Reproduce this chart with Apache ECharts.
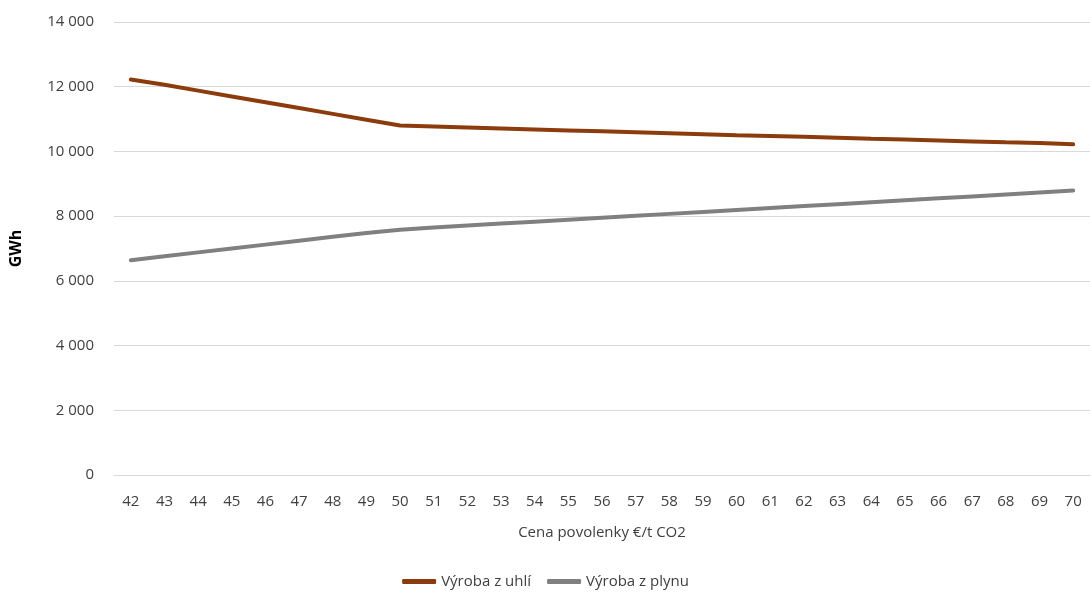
<!DOCTYPE html>
<html>
<head>
<meta charset="utf-8">
<script src="https://cdn.jsdelivr.net/npm/echarts@6/dist/echarts.min.js"></script>
<style>
  html, body { margin: 0; padding: 0; background: #fff; }
  #chart { width: 1091px; height: 592px; }
</style>
</head>
<body>
<div id="chart"></div>
<script>
// cena povolenky (€/t CO2)
var categories = ["42","43","44","45","46","47","48","49","50","51","52","53","54","55","56","57","58","59","60","61","62","63","64","65","66","67","68","69","70"];
// výroba z uhlí (GWh)
var coalValues = [12220,12060,11880,11700,11520,11340,11160,10980,10800,10770,10740,10710,10680,10650,10620,10590,10560,10530,10500,10480,10450,10420,10390,10370,10340,10310,10280,10260,10220];
// výroba z plynu (GWh)
var gasValues = [6640,6760,6880,7000,7120,7240,7360,7480,7580,7650,7710,7770,7830,7890,7950,8010,8070,8130,8190,8250,8310,8370,8430,8490,8550,8610,8670,8730,8790];
var seriesNames = ["Výroba z uhlí", "Výroba z plynu"];

var font = "'Open Sans', 'Noto Sans', sans-serif";

// mezera jako oddělovač tisíců
function fmt(v) {
    return String(v).replace(/\B(?=(\d{3})+(?!\d))/g, " ");
}

var myChart = echarts.init(document.getElementById("chart"));

var option = {
    animation: false,
    textStyle: { fontFamily: font },
    grid: { left: 112, right: 1, top: 22, bottom: 117 },
    legend: {
        bottom: -2,
        left: "center",
        data: seriesNames,
        icon: "roundRect",
        itemWidth: 34,
        itemHeight: 5,
        itemGap: 16,
        textStyle: { color: "#404040", fontSize: 15, fontFamily: font }
    },
    xAxis: {
        type: "category",
        data: categories,
        boundaryGap: true,
        name: "Cena povolenky €/t CO2",
        nameLocation: "middle",
        nameGap: 50,
        nameTextStyle: { color: "#404040", fontSize: 15 },
        axisLine: { lineStyle: { color: "#d9d9d9" } },
        axisTick: { show: false },
        axisLabel: { color: "#404040", fontSize: 15, margin: 19, interval: 0 }
    },
    yAxis: {
        type: "value",
        min: 0,
        max: 14000,
        interval: 2000,
        name: "GWh",
        nameLocation: "middle",
        nameGap: 90,
        nameTextStyle: { color: "#000", fontSize: 16, fontWeight: "bold" },
        axisLine: { show: false },
        axisTick: { show: false },
        axisLabel: { color: "#404040", fontSize: 15, margin: 20, formatter: fmt },
        splitLine: { lineStyle: { color: "#d9d9d9" } }
    },
    series: [
        {
            name: seriesNames[0],
            type: "line",
            data: coalValues,
            symbol: "none",
            lineStyle: { width: 4, color: "#8c3c0c", cap: "round" },
            itemStyle: { color: "#8c3c0c" }
        },
        {
            name: seriesNames[1],
            type: "line",
            data: gasValues,
            symbol: "none",
            lineStyle: { width: 4, color: "#808080", cap: "round" },
            itemStyle: { color: "#808080" }
        }
    ]
};

myChart.setOption(option);
</script>
</body>
</html>
